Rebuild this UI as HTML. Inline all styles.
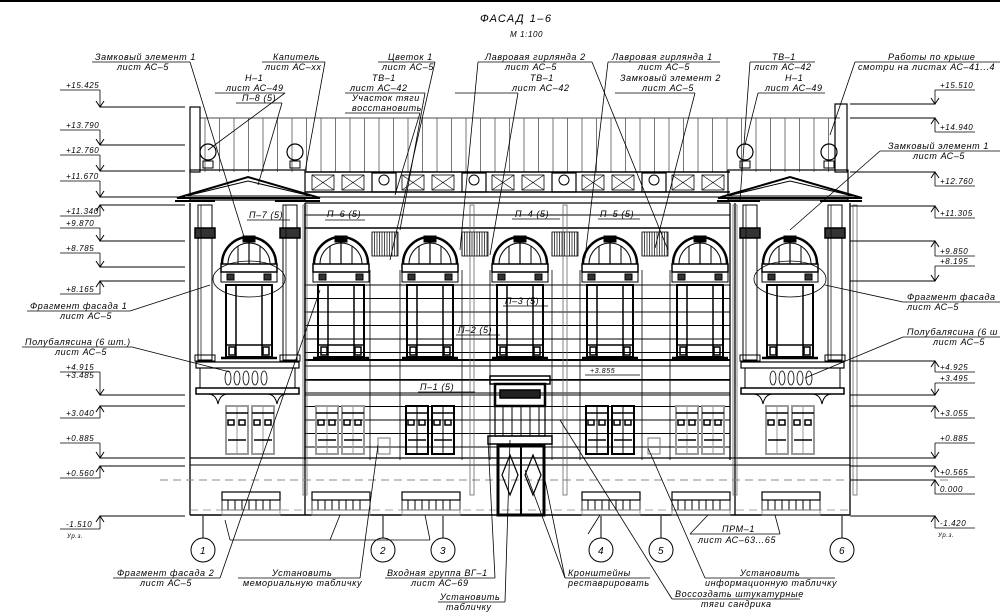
<!DOCTYPE html>
<html><head><meta charset="utf-8"><style>
body{margin:0;background:#fff;width:1000px;height:615px;overflow:hidden}
svg{display:block}
text{font-family:"Liberation Sans",sans-serif;font-style:italic;fill:#000;letter-spacing:0.6px}
</style></head><body>
<svg id="s" width="1000" height="615" viewBox="0 0 1000 615" xmlns="http://www.w3.org/2000/svg">
<rect x="0" y="0" width="1000" height="2" fill="#000"/>
<text x="480" y="22" style="font-size:11px;letter-spacing:1.5px">ФАСАД  1–6</text>
<text x="510" y="37" style="font-size:8px">М 1:100</text>
<g id="g" stroke="#000" fill="none" stroke-width="1"></g>
<g id="t" style="font-size:9px">
<text x="95" y="60">Замковый  элемент  1</text><text x="117" y="70">лист  АС–5</text>
<text x="273" y="60">Капитель</text><text x="265" y="70">лист  АС–хх</text>
<text x="245" y="81">Н–1</text><text x="226" y="91">лист  АС–49</text><text x="242" y="101">П–8 (5)</text>
<text x="388" y="60">Цветок  1</text><text x="382" y="70">лист  АС–5</text>
<text x="372" y="81">ТВ–1</text><text x="350" y="91">лист  АС–42</text><text x="352" y="101">Участок  тяги</text><text x="352" y="111">восстановить</text>
<text x="485" y="60">Лавровая  гирлянда  2</text><text x="505" y="70">лист  АС–5</text>
<text x="530" y="81">ТВ–1</text><text x="512" y="91">лист  АС–42</text>
<text x="612" y="60">Лавровая  гирлянда  1</text><text x="638" y="70">лист  АС–5</text>
<text x="620" y="81">Замковый  элемент  2</text><text x="642" y="91">лист  АС–5</text>
<text x="772" y="60">ТВ–1</text><text x="754" y="70">лист  АС–42</text>
<text x="785" y="81">Н–1</text><text x="765" y="91">лист  АС–49</text>
<text x="888" y="60">Работы  по  крыше</text><text x="858" y="70">смотри  на  листах  АС–41...4</text>
<text x="888" y="149">Замковый  элемент  1</text><text x="913" y="159">лист  АС–5</text>
<text x="30" y="309">Фрагмент  фасада  1</text><text x="60" y="319">лист  АС–5</text>
<text x="907" y="300">Фрагмент  фасада</text><text x="907" y="310">лист  АС–5</text>
<text x="25" y="345">Полубалясина  (6  шт.)</text><text x="55" y="355">лист  АС–5</text>
<text x="907" y="335">Полубалясина  (6  ш</text><text x="933" y="345">лист  АС–5</text>
<text x="117" y="576">Фрагмент  фасада  2</text><text x="140" y="586">лист  АС–5</text>
<text x="272" y="576">Установить</text><text x="243" y="586">мемориальную  табличку</text>
<text x="387" y="576">Входная  группа  ВГ–1</text><text x="411" y="586">лист  АС–69</text>
<text x="440" y="600">Установить</text><text x="446" y="610">табличку</text>
<text x="568" y="576">Кронштейны</text><text x="568" y="586">реставрировать</text>
<text x="740" y="576">Установить</text><text x="705" y="586">информационную  табличку</text>
<text x="675" y="597">Воссоздать  штукатурные</text><text x="701" y="607">тяги  сандрика</text>
<text x="722" y="532">ПРМ–1</text><text x="698" y="543">лист  АС–63...65</text>
<text x="327" y="217">П–6 (5)</text><text x="515" y="217">П–4 (5)</text><text x="600" y="217">П–5 (5)</text>
<text x="505" y="304">П–3 (5)</text><text x="458" y="333">П–2 (5)</text><text x="420" y="390">П–1 (5)</text>
<text x="590" y="373" style="font-size:7px">+3.855</text>
<text x="249" y="218">П–7 (5)</text>
<text x="938" y="537" style="font-size:6px">Ур.з.</text><text x="67" y="538" style="font-size:6px">Ур.з.</text>
</g>
</svg>
<script>
const g=document.getElementById('g'),t=document.getElementById('t');
let h='';
const L=(a,b,c,d,w,col,ex)=>h+=`<line x1="${a}" y1="${b}" x2="${c}" y2="${d}" stroke-width="${w||1}" stroke="${col||'#000'}" ${ex||''}/>`;
const R=(x,y,w,hh,sw,f,col)=>h+=`<rect x="${x}" y="${y}" width="${w}" height="${hh}" stroke-width="${sw||1}" fill="${f||'none'}" stroke="${col||'#000'}"/>`;
const C=(x,y,r,sw)=>h+=`<circle cx="${x}" cy="${y}" r="${r}" stroke-width="${sw||1}"/>`;
let tx='';
const T=(x,y,s,fs)=>tx+=`<text x="${x}" y="${y}" style="font-size:${fs||8}px">${s}</text>`;
L(200,118,840,118,1.5,'#888');
for(let x=205;x<840;x+=14.5)L(x,118,x,172,0.8,'#555');
R(190,107,10,65,1.2);R(835,104,12,68,1.2);
[[208,152],[295,152],[745,152],[829,152]].forEach(([x,y])=>{C(x,y,8,1.2);R(x-5,161,10,7,1)});
R(190,170,115,30,1.2);R(728,170,120,30,1.2);
L(305,172,730,172,1.5);L(305,192,730,192,1.5);L(305,197,730,197,1);L(305,203,730,203,2,'#666');
for(let x=312;x<725;x+=30){if([372,462,552,642].some(v=>Math.abs(v-x)<16)){R(x,173,24,19,1.2);C(x+12,180,5);continue;}R(x,175,22,15,0.8);L(x,175,x+22,190,0.6);L(x+22,175,x,190,0.6);}
h+=`<polygon points="177,198 248,177 320,198" stroke-width="2" fill="#fff"/><polygon points="186,196 248,181 311,196" stroke-width="1"/>`;
h+=`<polygon points="718,198 790,177 862,198" stroke-width="2" fill="#fff"/><polygon points="727,196 790,181 853,196" stroke-width="1"/>`;
L(175,201,215,201,2);L(275,201,320,201,2);L(717,201,760,201,2);L(820,201,862,201,2);
[[190,305],[735,850]].forEach(([a,b])=>{L(a,203,a,515,1.3);L(b,203,b,515,1.3);
 [a+8,b-22].forEach(x=>{R(x,205,14,155,1);R(x-3,228,20,10,1.5,'#333');L(x+3,205,x+3,360,0.7);R(x-3,355,20,6,1)});
 R(a+6,362,b-a-12,6,1.2);R(a+10,368,b-a-20,20,1);R(a+6,388,b-a-12,6,1.5);
 for(let x=a+38;x<b-38;x+=9){h+=`<ellipse cx="${x}" cy="378" rx="3" ry="7" stroke-width="0.8"/>`}
 h+=`<path d="M${a+18},394 q8,0 10,10 q2,-10 10,-10 M${b-38},394 q8,0 10,10 q2,-10 10,-10" stroke-width="1"/>`;
});
L(305,203,305,460,1.3);L(730,203,730,460,1.3);
for(let y=285;y<460;y+=13.5)L(305,y,730,y,0.9);
[370,400,462,490,552,580,642,670].forEach(x=>L(x,270,x,460,0.8));
L(305,215,730,215,1);L(305,228,730,228,1.5);L(305,360,730,360,2);L(305,380,730,380,1.5);L(305,395,730,395,1);
[372,462,552,642].forEach(x=>{R(x,232,26,24,0.8);for(let i=0;i<26;i+=2.5)L(x+i,232,x+i,256,0.7)});
[249,341,430,520,610,700,790].forEach(c=>{
 h+=`<path d="M${c-27},264 A27,27 0 0 1 ${c+27},264" stroke-width="2.5"/><path d="M${c-21},264 A21,21 0 0 1 ${c+21},264" stroke-width="1"/>`;
 L(c,243,c,264,1.2);L(c-11,246,c-11,264,1);L(c+11,246,c+11,264,1);R(c-6,236,12,6,1,'#000');
 R(c-28,264,56,8,1.5);R(c-28,272,56,10,1);R(c-22,274,7,6,1,'#333');R(c+15,274,7,6,1,'#333');
 R(c-23,285,46,72,2);L(c-13,285,c-13,357,1.5);L(c+13,285,c+13,357,1.5);L(c-23,345,c+23,345,1.5);
 R(c-20,347,6,8,1.5);R(c+14,347,6,8,1.5);L(c-28,358,c+28,358,2.5);
});
h+=`<ellipse cx="249" cy="279" rx="36" ry="18" stroke-width="0.8"/><ellipse cx="790" cy="279" rx="36" ry="18" stroke-width="0.8"/>`;
[[250,'#999'],[340,'#999'],[430,'#000'],[610,'#000'],[700,'#999'],[790,'#999']].forEach(([c,col])=>{
 [c-24,c+2].forEach(x=>{R(x,406,22,48,2,'none',col);L(x+11,406,x+11,454,1,col);L(x,413,x+22,413,1.5);R(x+2,420,6,5,1.5);R(x+13,420,6,5,1.5);L(x+2,440,x+20,440,1.5)});
});
R(378,438,12,16,1,'none','#777');R(648,438,12,16,1,'none','#777');
L(190,458,850,458,1.3);L(190,465,850,465,1);L(160,480,950,480,1,'#888','stroke-dasharray="8,5"');
L(190,515,850,515,1.5);L(190,510,850,510,0.8,'#888','stroke-dasharray="8,5"');
[250,340,430,610,700,790].forEach(c=>{R(c-28,492,58,8,1.2);R(c-28,500,58,10,0.8);for(let i=6;i<52;i+=7)L(c-28+i,500,c-28+i,510,1);R(c-28,510,58,5,0.8,'none','#888')});
[305,472,565,735,855].forEach(x=>{R(x-2,205,4,290,0.8,'none','#666')});
R(490,376,60,8,1.5);R(495,384,50,22,2.5);R(500,390,40,8,1.5,'#222');
R(495,406,50,30,1.2);for(let x=503;x<545;x+=9)L(x,406,x,436,1);
R(488,436,64,8,1.5);R(498,445,46,70,3);L(521,445,521,515,2);
h+=`<path d="M510,455 l8,20 l-8,20 l-8,-20z M533,455 l8,20 l-8,20 l-8,-20z" stroke-width="1.2"/>`;
const lv=[[107,'+15.425',88,0],[145,'+13.790',128,0],[171,'+12.760',153,0],[197,'+11.670',179,0],[205,'+11.340',214,1],[241,'+9.870',226,0],[267,'+8.785',251,0],[281,'+8.165',292,1],[395,'+4.915',370,0],[406,'+3.040',416,1],[458,'+0.885',441,0],[466,'+0.560',476,1],[516,'-1.510',527,1]];
lv.forEach(([y,s,ty,up])=>{L(100,y,185,y,1);L(60,ty+2,100,ty+2,0.8);L(100,ty+2,100,y,0.8);h+=up?`<path d="M96,${y+6} L100,${y} L104,${y+6}" stroke-width="1"/>`:`<path d="M96,${y-6} L100,${y} L104,${y-6}" stroke-width="1"/>`;T(66,ty,s)});
T(66,378,'+3.485');
const rv=[[104,'+15.510',88,0],[118,'+14.940',130,1],[172,'+12.760',184,1],[206,'+11.305',216,1],[241,'+9.850',254,1],[281,'+8.195',264,0],[361,'+4.925',370,1],[395,'+3.495',381,0],[406,'+3.055',416,1],[458,'+0.885',441,0],[466,'+0.565',475,1],[480,'0.000',492,1],[516,'-1.420',526,1]];
rv.forEach(([y,s,ty,up])=>{L(850,y,935,y,1);L(935,ty+2,975,ty+2,0.8);L(935,ty+2,935,y,0.8);h+=up?`<path d="M931,${y+6} L935,${y} L939,${y+6}" stroke-width="1"/>`:`<path d="M931,${y-6} L935,${y} L939,${y-6}" stroke-width="1"/>`;T(940,ty,s)});
[[203,'1'],[383,'2'],[443,'3'],[601,'4'],[661,'5'],[842,'6']].forEach(([x,s])=>{L(x,516,x,538,1);C(x,550,12,1);T(x-3,554,s,10)});
const ul=[[92,62,190],[262,62,325],[215,93,285],[236,103,282],[378,62,435],[345,93,425],[345,113,420],[478,62,592],[455,93,518],[608,62,720],[615,93,695],[750,62,815],[758,93,825],[855,62,1000],[880,151,1000],[27,311,130],[903,302,1000],[22,347,132],[903,337,1000],[113,578,220],[238,578,360],[385,578,495],[438,602,505],[565,578,650],[705,578,835],[672,599,800],[690,534,780]];
ul.forEach(([a,y,b])=>L(a,y,b,y,0.8));
const ld=[[190,62,245,240],[325,62,305,172],[285,93,208,150],[282,103,258,185],[435,62,390,260],[425,93,400,230],[420,113,395,195],[478,62,460,250],[518,93,490,255],[592,62,668,250],[608,62,585,258],[695,93,655,248],[750,62,740,200],[758,93,745,145],[855,62,830,135],[880,151,790,230],[130,311,210,285],[903,302,825,285],[132,347,230,372],[903,337,805,378],[220,578,320,290],[360,578,378,445],[495,578,488,440],[505,602,510,440],[565,578,545,480],[565,578,525,470],[705,578,648,448],[672,599,560,420],[225,520,230,540],[230,540,430,540],[430,540,425,515],[330,540,340,515],[588,534,600,515],[690,534,708,515],[780,534,775,515]];
ld.forEach(([a,b,c,d])=>L(a,b,c,d,0.8));
[[325,220,365],[512,219,560],[598,219,640],[503,306,548],[456,335,500],[418,392,475],[247,220,290]].forEach(([a,y,b])=>L(a,y,b,y,0.8));
L(585,375,640,375,0.8);
g.innerHTML=h;t.innerHTML+=tx;
</script>
</body></html>
